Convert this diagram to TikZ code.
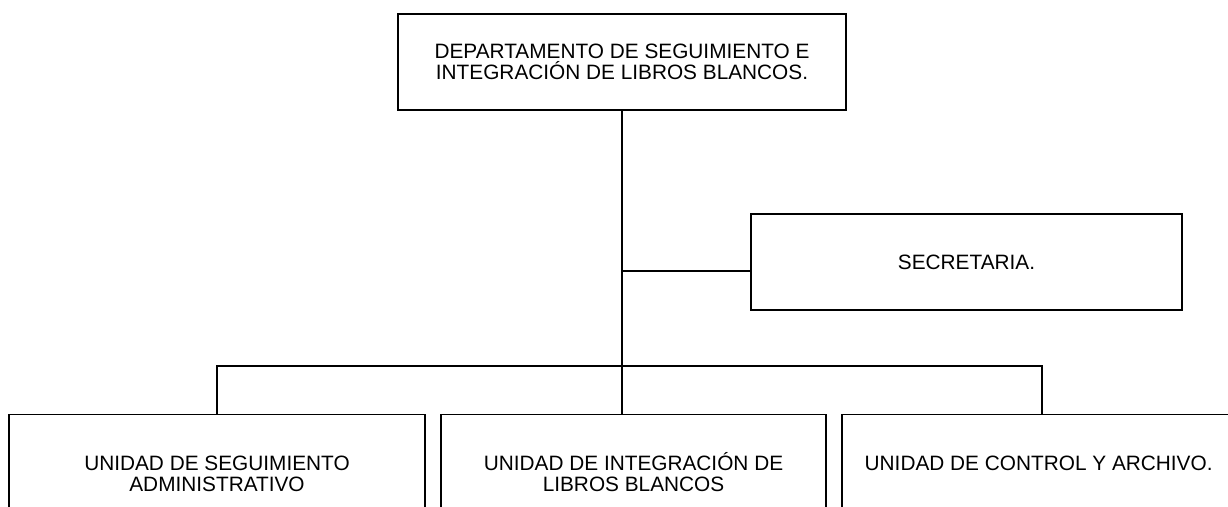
\documentclass[tikz,border=0pt]{standalone}
\usepackage{fontspec}
\setmainfont{Liberation Sans}
\usetikzlibrary{positioning}
\begin{document}
\begin{tikzpicture}[x=1pt,y=-1pt,line width=1.4pt,
    box/.style={draw, align=center, inner sep=0pt, font=\fontsize{20.8}{21}\selectfont},
    boxtext/.style={align=center, inner sep=0pt, anchor=north, font=\fontsize{20.8}{21}\selectfont}]
  \clip (0,0) rectangle (1228,506);

  % head and secretary
  \node[box, minimum width=448pt, minimum height=96pt] (dep) at (622,62)
    {DEPARTAMENTO DE SEGUIMIENTO E\\INTEGRACIÓN DE LIBROS BLANCOS.};
  \node[box, minimum width=431pt, minimum height=96pt] (sec) at (966.5,262) {SECRETARIA.};
  \coordinate (secin) at ([yshift=-9pt]sec.west);

  % units (cut off at the bottom)
  \node[box, anchor=north, minimum width=416pt, minimum height=150pt] (usa) at (217,414) {};
  \node[box, anchor=north, minimum width=385pt, minimum height=150pt] (uil) at (633.5,414) {};
  \node[box, anchor=north, minimum width=400pt, minimum height=150pt] (uca) at (1042,414) {};
  \node[boxtext] (usat) at ([yshift=-38pt]usa.north) {\vphantom{Ó}UNIDAD DE SEGUIMIENTO\\ADMINISTRATIVO};
  \node[boxtext] (uilt) at ([yshift=-38pt]uil.north) {\vphantom{Ó}UNIDAD DE INTEGRACIÓN DE\\LIBROS BLANCOS};
  \node[boxtext, anchor=north west] (ucat) at ([yshift=-38pt]864,414) {\vphantom{Ó}UNIDAD DE CONTROL Y ARCHIVO.};

  % connectors
  \coordinate (bus) at (622,366);
  \draw (dep.south) -- (dep.south |- uil.north);
  \draw (dep.south |- secin) -- (secin);
  \draw (usa.north) |- (bus) -| (uca.north);
\end{tikzpicture}
\end{document}
